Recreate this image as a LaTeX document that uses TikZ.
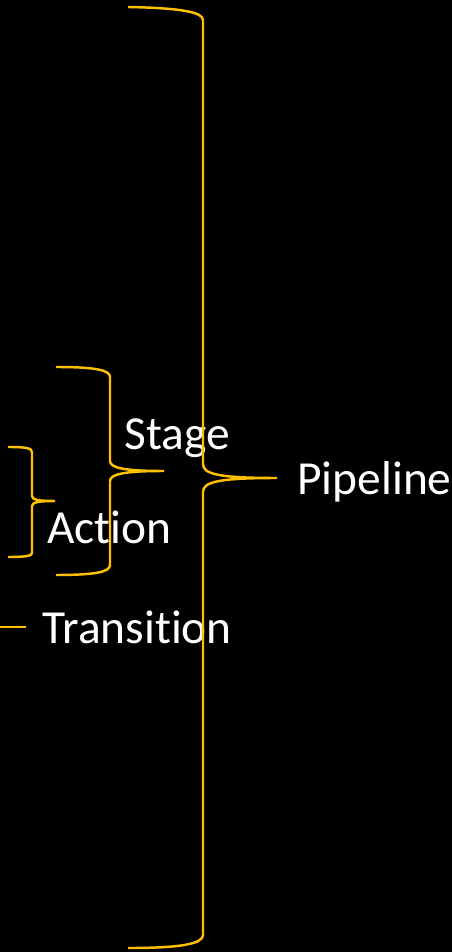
\documentclass[tikz,border=0pt]{standalone}
\usepackage{fontspec}
\setmainfont{Carlito}[Ligatures=NoCommon]
\definecolor{gold}{HTML}{FFC000}

\tikzset{
  brace/.style={draw=gold, line width=1.4pt},
  label/.style={text=white, anchor=base west, inner sep=0pt,
                font=\fontsize{27}{32}\selectfont}
}

\begin{document}
\begin{tikzpicture}[x=0.02cm, y=-0.02cm]
                % Background
                \fill[black] (0,0) rectangle (452,952);
                \useasboundingbox (0,0) rectangle (452,952);

                % Labels
                \node[label] (stage) at (124,449) {Stage};
                \node[label] (action) at (47,543) {Action};
                \node[label] (transition) at (42,643) {Transition};
                \node[label] (pipeline) at (297,494) {Pipeline};

                % Brace tips
                \coordinate (pipetip) at (277,478);
                \coordinate (stagetip) at (164,471);
                \coordinate (actiontip) at (55,501);

                % Pipeline brace
                \draw[brace] (128,7) .. controls (180,8) and (203,12) .. (203,20)
                    -- (203,464) .. controls (203,474) and (218,478) .. (pipetip)
                    .. controls (218,478) and (203,482) .. (203,492)
                    -- (203,935) .. controls (203,944) and (180,948) .. (128,948);

                % Stage brace
                \draw[brace] (56,367) .. controls (95,367) and (110,370) .. (110,377)
                    -- (110,461) .. controls (110,468) and (125,471) .. (stagetip)
                    .. controls (125,471) and (110,474) .. (110,481)
                    -- (110,565) .. controls (110,572) and (95,575) .. (56,575);

                % Action brace
                \draw[brace] (8,447) .. controls (25,447) and (32,448) .. (32,452)
                    -- (32,496) .. controls (32,500) and (40,501) .. (actiontip)
                    .. controls (40,501) and (32,502) .. (32,506)
                    -- (32,553) .. controls (32,556) and (25,557) .. (8,557);

                % Transition marker
                \draw[brace] (0,627) -- (26,627);
            \end{tikzpicture}
\end{document}
